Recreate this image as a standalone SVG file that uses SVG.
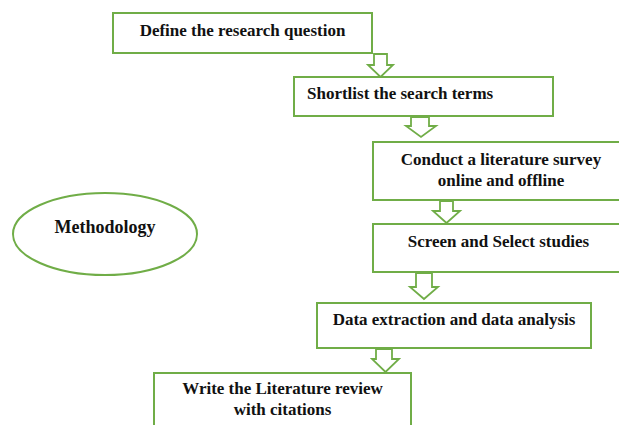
<svg xmlns="http://www.w3.org/2000/svg" width="619" height="425" viewBox="0 0 619 425">
<style>
.box{fill:#fff;stroke:#70ad47;stroke-width:2}
.arr{fill:#fff;stroke:#70ad47;stroke-width:1.8;stroke-linejoin:miter}
text{font-family:"Liberation Serif","Times New Roman",serif;font-weight:bold;font-size:17px;fill:#111}
.c{text-anchor:middle}
</style>
<rect width="619" height="425" fill="#fff"/>
<g id="connectors">
<polygon class="arr" points="374,54 387,54 387,65 393,65 380.5,77 368,65 374,65"/>
<polygon class="arr" points="411,117 429,117 429,126 436,126 421,137 406,126 411,126"/>
<polygon class="arr" points="440,201 453,201 453,211 460,211 446.5,223 433,211 440,211"/>
<polygon class="arr" points="416,273 432,273 432,287 438,287 424,299 410,287 416,287"/>
<polygon class="arr" points="376,349 392,349 392,359 399,359 385.5,372 372,359 376,359"/>
</g>
<g id="n1"><rect class="box" x="113" y="13" width="259" height="40"/><text class="c" x="242.5" y="36">Define the research question</text></g>
<g id="n2"><rect class="box" x="294" y="77" width="259" height="39"/><text x="307" y="99">Shortlist the search terms</text></g>
<g id="n3"><rect class="box" x="373" y="142" width="260" height="58"/><text class="c" x="501" y="165">Conduct a literature survey</text><text class="c" x="501" y="186">online and offline</text></g>
<g id="n4"><rect class="box" x="373" y="224" width="260" height="48"/><text class="c" x="498.5" y="247">Screen and Select studies</text></g>
<g id="n5"><rect class="box" x="317" y="303" width="274" height="45"/><text class="c" x="454" y="325">Data extraction and data analysis</text></g>
<g id="n6"><rect class="box" x="154" y="373" width="257" height="60"/><text class="c" x="282.5" y="394">Write the Literature review</text><text class="c" x="282.5" y="415">with citations</text></g>
<g id="methodology"><ellipse class="box" cx="105" cy="234" rx="92" ry="41"/><text class="c" x="105" y="233" style="font-size:18px">Methodology</text></g>
</svg>
